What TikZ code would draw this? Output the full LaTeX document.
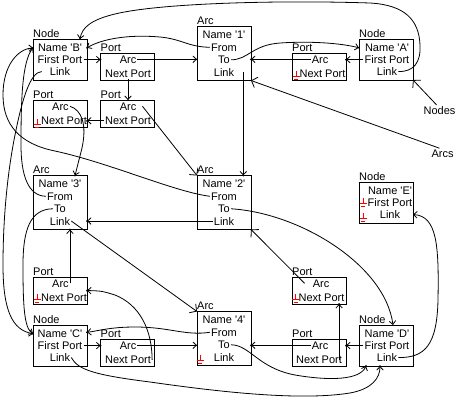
\documentclass[tikz,border=0pt]{standalone}
\usepackage{fontspec}
\setmainfont{Liberation Sans}[Ligatures=TeXOff]
\usetikzlibrary{arrows.meta,decorations.markings}
\begin{document}
\begin{tikzpicture}[x=1pt,y=-1pt,
  every node/.style={font=\fontsize{11}{12}\selectfont, text=black},
  box/.style={draw, line width=0.9pt, minimum width=54pt, anchor=north west, inner sep=0pt, outer sep=0pt},
  nodebox/.style={box, minimum height=41pt},
  portbox/.style={box, minimum height=27pt},
  arcbox/.style={box, minimum height=54pt},
  lbl/.style={anchor=base west, inner sep=0pt},
  fld/.style={anchor=base, inner sep=1pt},
  ptr/.style={line width=0.8pt, -{Straight Barb[length=3.5pt,width=6.5pt]},
    postaction={decorate},
    decoration={markings, mark=at position 1 with {\fill (0,0) circle (1pt);}}},
  cptr/.style={line width=0.8pt, -{Straight Barb[length=5pt,width=11pt]}},
  gnd/.pic={\draw[red, line width=0.9pt] (0,-5) -- (0,0) (-3.5,0) -- (3.5,0) (-2,3) -- (2,3);}
]
\useasboundingbox (0,0) rectangle (456,400);
\fill[white] (0,0) rectangle (456,400);

% ---------- Node B
\node[nodebox] (nB) at (33,39) {};
\node[lbl] (nB-l) at ([yshift=1.8pt]nB.north west) {Node};
\node[fld] (nB-name) at (60,51.5) {Name 'B'};
\node[fld] (nB-fp) at (60,63.5) {First Port};
\node[fld] (nB-link) at (60,75.5) {Link};
% ---------- Port B1
\node[portbox] (pB1) at (100.5,53) {};
\node[lbl] (pB1-l) at ([yshift=1.8pt]pB1.north west) {Port};
\node[fld] (pB1-arc) at (128,63) {Arc};
\node[fld] (pB1-np) at (128,77.5) {Next Port};
% ---------- Arc 1
\node[arcbox] (a1) at (197,26.5) {};
\node[lbl] (a1-l) at ([yshift=1.8pt]a1.north west) {Arc};
\node[fld] (a1-name) at (224,38.5) {Name '1'};
\node[fld] (a1-from) at (224,51) {From};
\node[fld] (a1-to) at (224,63.5) {To};
\node[fld] (a1-link) at (224,76) {Link};
% ---------- Port A1
\node[portbox] (pA1) at (292,53) {};
\node[lbl] (pA1-l) at ([yshift=1.8pt]pA1.north west) {Port};
\node[fld] (pA1-arc) at (320,63) {Arc};
\node[fld] (pA1-np) at (322.5,77.5) {Next Port};
\pic at (296,76) {gnd};
% ---------- Node A
\node[nodebox] (nA) at (359,39) {};
\node[lbl] (nA-l) at ([yshift=1.8pt]nA.north west) {Node};
\node[fld] (nA-name) at (387,51.5) {Name 'A'};
\node[fld] (nA-fp) at (387,63.5) {First Port};
\node[fld] (nA-link) at (387,75.5) {Link};
% ---------- Port B3
\node[portbox] (pB3) at (33,100) {};
\node[lbl] (pB3-l) at ([yshift=1.8pt]pB3.north west) {Port};
\node[fld] (pB3-arc) at (60.5,110) {Arc};
\node[fld] (pB3-np) at (64,124.5) {Next Port};
\pic at (37,124) {gnd};
% ---------- Port B2
\node[portbox] (pB2) at (100.5,100) {};
\node[lbl] (pB2-l) at ([yshift=1.8pt]pB2.north west) {Port};
\node[fld] (pB2-arc) at (128,110) {Arc};
\node[fld] (pB2-np) at (128,124.5) {Next Port};
% ---------- Arc 3
\node[arcbox] (a3) at (33,175.5) {};
\node[lbl] (a3-l) at ([yshift=1.8pt]a3.north west) {Arc};
\node[fld] (a3-name) at (60,187.5) {Name '3'};
\node[fld] (a3-from) at (60,200) {From};
\node[fld] (a3-to) at (60,212.5) {To};
\node[fld] (a3-link) at (60,225) {Link};
% ---------- Arc 2
\node[arcbox] (a2) at (197,175.5) {};
\node[lbl] (a2-l) at ([yshift=1.8pt]a2.north west) {Arc};
\node[fld] (a2-name) at (224,187.5) {Name '2'};
\node[fld] (a2-from) at (224,200) {From};
\node[fld] (a2-to) at (224,212.5) {To};
\node[fld] (a2-link) at (224,225) {Link};
% ---------- Node E
\node[nodebox] (nE) at (359,182) {};
\node[lbl] (nE-l) at ([yshift=1.8pt]nE.north west) {Node};
\node[fld] (nE-name) at (390,194.5) {Name 'E'};
\node[fld] (nE-fp) at (390,206.5) {First Port};
\node[fld] (nE-link) at (390,218.5) {Link};
\pic at (363,203) {gnd};
\pic at (363,218) {gnd};
% ---------- Port C2
\node[portbox] (pC2) at (33,277) {};
\node[lbl] (pC2-l) at ([yshift=1.8pt]pC2.north west) {Port};
\node[fld] (pC2-arc) at (60.5,287) {Arc};
\node[fld] (pC2-np) at (64,301.5) {Next Port};
\pic at (37,299) {gnd};
% ---------- Port D2
\node[portbox] (pD2) at (292,277) {};
\node[lbl] (pD2-l) at ([yshift=1.8pt]pD2.north west) {Port};
\node[fld] (pD2-arc) at (321,287) {Arc};
\node[fld] (pD2-np) at (321.5,301.5) {Next Port};
\pic at (295.5,299) {gnd};
% ---------- Node C
\node[nodebox] (nC) at (33,325) {};
\node[lbl] (nC-l) at ([yshift=1.8pt]nC.north west) {Node};
\node[fld] (nC-name) at (60,337.5) {Name 'C'};
\node[fld] (nC-fp) at (60,349.5) {First Port};
\node[fld] (nC-link) at (60,361.5) {Link};
% ---------- Port C1
\node[portbox] (pC1) at (100.5,339) {};
\node[lbl] (pC1-l) at ([yshift=1.8pt]pC1.north west) {Port};
\node[fld] (pC1-arc) at (128,349) {Arc};
\node[fld] (pC1-np) at (128,363.5) {Next Port};
% ---------- Arc 4
\node[arcbox] (a4) at (197,311.5) {};
\node[lbl] (a4-l) at ([yshift=1.8pt]a4.north west) {Arc};
\node[fld] (a4-name) at (224,323.5) {Name '4'};
\node[fld] (a4-from) at (224,336) {From};
\node[fld] (a4-to) at (224,348.5) {To};
\node[fld] (a4-link) at (224,361) {Link};
\pic at (200,360) {gnd};
% ---------- Port D1
\node[portbox] (pD1) at (292,339) {};
\node[lbl] (pD1-l) at ([yshift=1.8pt]pD1.north west) {Port};
\node[fld] (pD1-arc) at (320,349) {Arc};
\node[fld] (pD1-np) at (319,363.5) {Next Port};
% ---------- Node D
\node[nodebox] (nD) at (359,325) {};
\node[lbl] (nD-l) at ([yshift=1.8pt]nD.north west) {Node};
\node[fld] (nD-name) at (387,337.5) {Name 'D'};
\node[fld] (nD-fp) at (387,349.5) {First Port};
\node[fld] (nD-link) at (387,361.5) {Link};
% ---------- list heads
\node[fld] (nodes) at (439.5,114) {Nodes};
\node[fld] (arcs) at (442.5,157) {Arcs};

% ---------- helper coordinates
\coordinate (a1l) at ([xshift=8pt]a1-link.east);
\coordinate (b2a) at ([xshift=5pt]pB2-arc.east);
\coordinate (d1n) at ([xshift=-4pt]pD1-np.east);
\coordinate (d2a) at ([xshift=-7pt]pD2-arc.west);
\coordinate (bl) at ([xshift=-7pt]nB-link.west);

% ---------- straight pointers
\draw[ptr] (nB-fp.east) -- (pB1.west |- nB-fp);
\draw[ptr] (pB1-arc.east) -- (a1.west |- pB1-arc);
\draw[ptr] (nA-fp.west) -- (pA1.east |- nA-fp);
\draw[ptr] (pA1-arc.west) -- (a1.east |- pA1-arc);
\draw[ptr] (pB1-np.south) -- (pB1-np.south |- pB2.north);
\draw[cptr] (b2a) -- (a2.north west);
\draw[ptr] (pB2-np.west) -- (pB3.east |- pB2-np);
\draw[ptr] (a1l) -- (a1l |- a2.north);
\draw[ptr] (a2-link.west) -- (a3.east |- a2-link);
\draw[cptr] (a3-link.east) -- (a4.north west);
\draw[ptr] (pC2-arc.east) -- (pC2-arc.east |- a3.south);
\draw[ptr] (nC-fp.east) -- (pC1.west |- nC-fp);
\draw[ptr] (pC1-arc.east) -- (a4.west |- pC1-arc);
\draw[ptr] (nD-fp.west) -- (pD1.east |- nD-fp);
\draw[ptr] (pD1-arc.west) -- (a4.east |- pD1-arc);
\draw[ptr] (d1n) -- (d1n |- pD2.south);
\draw[cptr] (d2a) -- (a2.south east);
\draw[cptr] ([xshift=-3pt]nodes.north) -- (nA.south east);
\draw[cptr] ([xshift=-3pt]arcs.north) -- (a1.south east);

% ---------- curved pointers
\draw[ptr] (pB3-arc.east) .. controls (82,110) and (87,125) .. (82,148) .. controls (79,162) .. ([xshift=15pt]a3.north);
\draw[ptr] (pC1-np.east) .. controls (152,330) and (140,305) .. (115,295) .. controls (102,291) .. (pC2.east);
\draw[ptr] (nA-link.east) .. controls (414,72) and (421,62) .. (420,45) .. controls (419,20) and (405,5) .. (370,3) .. controls (280,0) and (160,3) .. (115,14) .. controls (90,20) and (82,28) .. ([xshift=-7pt]nB.north east);
\draw[ptr] (a1-from.west) .. controls (188,47) and (182,39) .. (160,37) .. controls (125,34) and (100,40) .. (nB.east |- nB-name);
\draw[ptr] (a1-to.east) .. controls (248,60) and (252,45) .. (280,43) .. controls (310,41) and (340,43) .. (nA.west |- nA-name);
\draw[ptr] (a2-from.west) .. controls (175,192) and (110,163) .. (55,151) .. controls (20,144) and (3,125) .. (3,95) .. controls (3,65) and (18,49) .. (nB.west |- nB-name);
\draw[ptr] (a3-from.west) .. controls (28,196) and (21,175) .. (21,145) .. controls (21,100) and (22,62) .. (nB.west |- nB-name);
\draw[ptr] (bl) .. controls (30,72) and (22,100) .. (15,135) .. controls (8,170) and (3,215) .. (3,265) .. controls (3,310) and (12,330) .. (nC.west |- nC-name);
\draw[ptr] (a3-to.west) .. controls (30,209) and (23,230) .. (23,265) .. controls (23,305) and (24,328) .. (nC.west |- nC-name);
\draw[ptr] (a2-to.east) .. controls (300,213) and (385,265) .. ([xshift=7pt]nD.north);
\draw[ptr] (a4-from.west) .. controls (185,336) and (170,327) .. (135,327) .. controls (110,327) and (98,331) .. (nC.east |- a4-from);
\draw[ptr] (a4-to.east) .. controls (250,345) and (258,368) .. (295,375) .. controls (330,381) and (360,380) .. ([xshift=-20pt]nD.south);
\draw[ptr] (nC-link.east) .. controls (78,370) and (95,375) .. (150,382) .. controls (220,392) and (300,401) .. (350,393) .. controls (372,389) and (380,378) .. ([xshift=-6pt]nD.south);
\draw[ptr] (nD-link.east) .. controls (425,358) and (437,345) .. (438,300) .. controls (439,245) and (437,216) .. (nE.east |- nE-link);
\end{tikzpicture}
\end{document}
